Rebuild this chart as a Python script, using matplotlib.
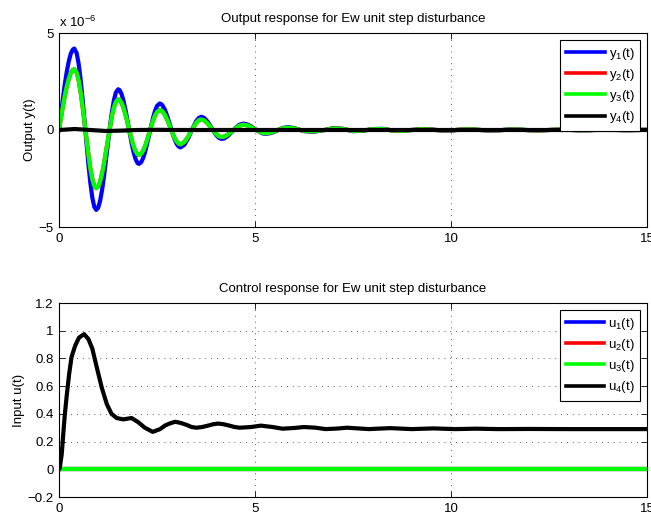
import numpy as np
import matplotlib
matplotlib.use("Agg")
import matplotlib.pyplot as plt
from matplotlib.ticker import FuncFormatter

plt.rcParams['font.family'] = ['Liberation Sans', 'DejaVu Sans']
plt.rcParams['mathtext.fontset'] = 'custom'
plt.rcParams['mathtext.rm'] = 'Liberation Sans'
plt.rcParams['mathtext.it'] = 'Liberation Sans'
plt.rcParams['mathtext.default'] = 'regular'

# ---------------- data (top plot, outputs in units of 1e-6) ----------------
t_y = [0.0, 0.05, 0.1, 0.15, 0.2, 0.25, 0.3, 0.35, 0.39, 0.45,
       0.5, 0.55, 0.6, 0.65, 0.7, 0.75, 0.8, 0.85, 0.9, 0.95,
       1.0, 1.05, 1.1, 1.15, 1.2, 1.25, 1.3, 1.35, 1.4, 1.45,
       1.51, 1.55, 1.6, 1.65, 1.7, 1.75, 1.8, 1.85, 1.9, 1.95,
       2.0, 2.04, 2.1, 2.15, 2.2, 2.25, 2.3, 2.35, 2.4, 2.45,
       2.5, 2.57, 2.63, 2.7, 2.75, 2.8, 2.85, 2.9, 2.95, 3.0,
       3.05, 3.1, 3.2, 3.3, 3.4, 3.5, 3.57, 3.63, 3.7, 3.8,
       3.9, 4.0, 4.08, 4.15, 4.22, 4.3, 4.4, 4.5, 4.6, 4.7,
       4.8, 4.9, 5.0, 5.1, 5.2, 5.28, 5.4, 5.5, 5.6, 5.7,
       5.84, 6.0, 6.25, 6.5, 6.75, 7.0, 7.25, 7.5, 7.75, 8.0,
       8.25, 8.5, 8.75, 9.0, 9.25, 9.5, 9.75, 10.0, 10.25, 10.5,
       10.75, 11.0, 11.25, 11.5, 11.75, 12.0, 12.25, 12.5, 12.75, 13.0,
       13.25, 13.5, 13.75, 14.0, 14.25, 14.5, 14.75, 15.0]

y1 = [0.0, 0.84, 1.65, 2.39, 3.03, 3.55, 3.93, 4.14, 4.2, 3.97,
      3.43, 2.63, 1.63, 0.51, -0.66, -1.77, -2.73, -3.49, -3.96, -4.12,
      -4.0, -3.64, -3.08, -2.36, -1.53, -0.66, 0.18, 0.93, 1.53, 1.93,
      2.1, 2.05, 1.83, 1.47, 1.0, 0.46, -0.11, -0.66, -1.12, -1.48,
      -1.7, -1.75, -1.65, -1.43, -1.1, -0.69, -0.24, 0.22, 0.64, 0.99,
      1.24, 1.37, 1.3, 1.05, 0.78, 0.47, 0.14, -0.19, -0.48, -0.71,
      -0.85, -0.9, -0.76, -0.41, 0.05, 0.46, 0.63, 0.68, 0.63, 0.41,
      0.08, -0.24, -0.41, -0.46, -0.43, -0.32, -0.12, 0.1, 0.27, 0.33,
      0.29, 0.19, 0.05, -0.08, -0.18, -0.2, -0.16, -0.08, 0.01, 0.1,
      0.15, 0.1, -0.06, -0.09, -0.01, 0.1, 0.06, -0.06, -0.04, 0.05,
      0.06, -0.02, -0.05, 0.0, 0.05, 0.03, -0.03, -0.03, 0.02, 0.04,
      0.0, -0.03, -0.01, 0.03, 0.02, -0.01, -0.02, 0.0, 0.02, 0.01,
      -0.015, -0.01, 0.01, 0.015, 0.0, -0.01, 0.0, 0.01]

y3 = [0.0, 0.63, 1.23, 1.78, 2.26, 2.64, 2.93, 3.09, 3.13, 2.96,
      2.57, 1.97, 1.24, 0.41, -0.45, -1.27, -1.98, -2.53, -2.88, -3.0,
      -2.91, -2.65, -2.24, -1.7, -1.09, -0.45, 0.16, 0.72, 1.16, 1.45,
      1.58, 1.54, 1.38, 1.11, 0.76, 0.36, -0.07, -0.47, -0.82, -1.09,
      -1.25, -1.29, -1.22, -1.05, -0.81, -0.5, -0.16, 0.18, 0.49, 0.75,
      0.93, 1.03, 0.98, 0.78, 0.57, 0.33, 0.07, -0.19, -0.41, -0.59,
      -0.7, -0.74, -0.62, -0.33, 0.04, 0.37, 0.51, 0.54, 0.5, 0.32,
      0.06, -0.19, -0.33, -0.36, -0.34, -0.25, -0.09, 0.08, 0.22, 0.27,
      0.24, 0.15, 0.04, -0.07, -0.15, -0.17, -0.13, -0.06, 0.01, 0.08,
      0.12, 0.08, -0.05, -0.07, -0.01, 0.08, 0.05, -0.05, -0.03, 0.04,
      0.05, -0.02, -0.04, 0.0, 0.04, 0.02, -0.02, -0.02, 0.02, 0.03,
      0.0, -0.02, -0.01, 0.02, 0.02, -0.01, -0.02, 0.0, 0.02, 0.01,
      -0.01, -0.01, 0.01, 0.01, 0.0, -0.01, 0.0, 0.01]

# the red curve coincides with the green one and lies under it
y2 = list(y3)

t_y4 = [0.0, 0.4, 0.8, 1.2, 1.6, 2.0, 2.5, 3.0, 15.0]
y4 = [0.0, 0.05, 0.0, -0.05, -0.03, 0.0, 0.01, 0.0, 0.0]

# ---------------- data (bottom plot, inputs) ----------------
t_u = [0.0, 0.02, 0.07, 0.11, 0.15, 0.2, 0.26, 0.32, 0.41, 0.51,
       0.64, 0.75, 0.85, 0.96, 1.09, 1.22, 1.34, 1.47, 1.64, 1.85,
       2.02, 2.19, 2.39, 2.58, 2.7, 2.82, 2.96, 3.1, 3.26, 3.38,
       3.51, 3.65, 3.8, 3.93, 4.06, 4.2, 4.35, 4.48, 4.61, 4.9,
       5.15, 5.45, 5.7, 6.0, 6.25, 6.55, 6.8, 7.1, 7.35, 7.9,
       8.45, 9.0, 9.55, 10.1, 10.65, 11.2, 12.0, 13.0, 14.0, 15.0]
u4 = [0.0, 0.01, 0.11, 0.26, 0.40, 0.54, 0.69, 0.81, 0.89, 0.95,
      0.975, 0.94, 0.87, 0.74, 0.59, 0.47, 0.40, 0.37, 0.36, 0.37,
      0.34, 0.30, 0.27, 0.29, 0.315, 0.33, 0.343, 0.335, 0.32, 0.305,
      0.30, 0.305, 0.315, 0.325, 0.33, 0.325, 0.315, 0.305, 0.30, 0.305,
      0.315, 0.305, 0.293, 0.298, 0.305, 0.30, 0.29, 0.294, 0.30, 0.29,
      0.297, 0.29, 0.295, 0.29, 0.293, 0.29, 0.291, 0.29, 0.29, 0.29]
t_zero = [0.0, 15.0]
u1 = [0.0, 0.0]
u2 = [0.0, 0.0]
u3 = [0.0, 0.0]

y_labels = ['y$_1$(t)', 'y$_2$(t)', 'y$_3$(t)', 'y$_4$(t)']
u_labels = ['u$_1$(t)', 'u$_2$(t)', 'u$_3$(t)', 'u$_4$(t)']
colors = ['#0000ff', '#ff0000', '#00ff00', '#000000']
x_ticks = [0, 5, 10, 15]
y_ticks_top = [-5, 0, 5]
y_ticks_bot = [-0.2, 0, 0.2, 0.4, 0.6, 0.8, 1, 1.2]

W, H = 651, 512
fig = plt.figure(figsize=(W / 100, H / 100), dpi=100)
ax1 = fig.add_axes([59 / W, 1 - 227 / H, 588 / W, 194 / H])
ax2 = fig.add_axes([59 / W, 1 - 497 / H, 588 / W, 194 / H])

lw = 3.0
fs = 9.5

def fmt(v, pos):
    s = '%g' % v
    return s.replace('-', '\u2212')

def style(ax):
    ax.set_xlim(0, 15)
    ax.set_xticks(x_ticks)
    ax.tick_params(direction='in', top=True, right=True, length=4, width=0.6,
                   labelsize=fs, pad=4)
    ax.grid(True, linestyle=(0, (1, 6)), color='0.15', linewidth=0.6)
    for sp in ax.spines.values():
        sp.set_linewidth(0.8)
    ax.xaxis.set_major_formatter(FuncFormatter(fmt))
    ax.yaxis.set_major_formatter(FuncFormatter(fmt))

def legend(ax):
    leg = ax.legend(loc='upper right', fontsize=fs, handlelength=2.9,
                    labelspacing=0.4, fancybox=False, edgecolor='black',
                    framealpha=1, borderaxespad=0.5, handletextpad=0.3,
                    borderpad=0.45)
    leg.get_frame().set_linewidth(0.8)
    for ln in leg.get_lines():
        ln.set_linewidth(2.6)

for tt, yy, lab, c in zip([t_y, t_y, t_y, t_y4], [y1, y2, y3, y4], y_labels, colors):
    ax1.plot(tt, yy, color=c, lw=lw, label=lab, solid_joinstyle='round')
style(ax1)
ax1.set_ylim(-5, 5)
ax1.set_yticks(y_ticks_top)
ax1.set_title('Output response for Ew unit step disturbance', fontsize=fs, pad=8)
ax1.set_ylabel('Output y(t)', fontsize=fs, labelpad=2)
ax1.text(0.0, 1.015, 'x 10$^{\u22126}$', transform=ax1.transAxes, fontsize=fs,
         ha='left', va='bottom')
legend(ax1)

for tt, uu, lab, c in zip([t_zero, t_zero, t_zero, t_u], [u1, u2, u3, u4], u_labels, colors):
    ax2.plot(tt, uu, color=c, lw=lw, label=lab, solid_joinstyle='round')
style(ax2)
ax2.set_ylim(-0.2, 1.2)
ax2.set_yticks(y_ticks_bot)
ax2.set_title('Control response for Ew unit step disturbance', fontsize=fs, pad=8)
ax2.set_ylabel('Input u(t)', fontsize=fs, labelpad=2)
legend(ax2)

fig.savefig('out.png', dpi=100)
